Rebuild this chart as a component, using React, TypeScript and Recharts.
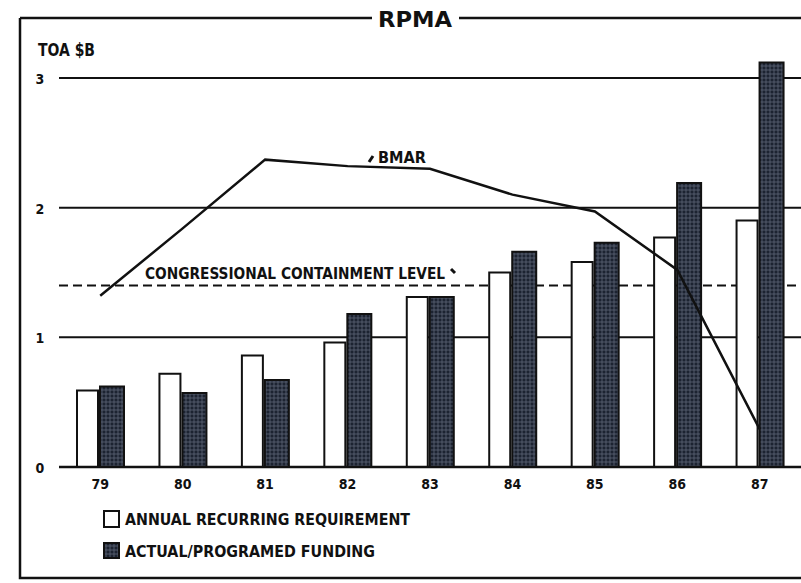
import { ComposedChart, Bar, Line, XAxis, YAxis, CartesianGrid } from 'recharts'

const years = ['79', '80', '81', '82', '83', '84', '85', '86', '87']
const requirement = [0.59, 0.72, 0.86, 0.96, 1.31, 1.5, 1.58, 1.77, 1.9]
const funding = [0.62, 0.57, 0.67, 1.18, 1.31, 1.66, 1.73, 2.19, 3.12]
const bmar = [1.32, 1.84, 2.37, 2.32, 2.3, 2.1, 1.97, 1.52, 0.29]
const containmentLevel = 1.4
const yTicks = [0, 1, 2, 3]
const gridValues = [1, 2, 3]

const data = years.map((year, i) => ({
  year,
  requirement: requirement[i],
  funding: funding[i],
  bmar: bmar[i]
}))

const FONT = "'Liberation Sans Narrow', 'DejaVu Sans Condensed', 'Liberation Sans', sans-serif"

const XTick = ({ x, y, payload }: any) => (
  <text x={x} y={y + 14} textAnchor='middle' fontFamily={FONT} fontWeight={700} fontSize={14} fill='#111'>
    {payload.value}
  </text>
)

const YTick = ({ y, payload }: any) => (
  <text x={40} y={y + 6} textAnchor='middle' fontFamily={FONT} fontWeight={700} fontSize={14} fill='#111'>
    {payload.value}
  </text>
)

export default function App() {
  return (
    <div style={{ position: 'absolute', left: 0, top: 0, width: 801, height: 583, background: '#fff' }}>
      <ComposedChart
        width={801}
        height={583}
        data={data}
        margin={{ top: 52, right: 0, left: 0, bottom: 0 }}
        barGap={2}
      >
        <defs>
          <pattern id='hatch' width='4' height='4' patternUnits='userSpaceOnUse'>
            <rect width='4' height='4' fill='#1c2331' />
            <path d='M0 2H4M2 0V4' stroke='#5d6575' strokeWidth='0.8' />
          </pattern>
        </defs>
        {/* solid gridlines and the dashed containment level, both kept behind the bars */}
        <CartesianGrid vertical={false} horizontalValues={gridValues} stroke='#111' strokeWidth={2} />
        <CartesianGrid
          vertical={false}
          horizontalValues={[containmentLevel]}
          stroke='#111'
          strokeWidth={2}
          strokeDasharray='9 5'
        />
        <XAxis
          dataKey='year'
          height={116}
          axisLine={{ stroke: '#111', strokeWidth: 2.5 }}
          tickLine={false}
          tick={<XTick />}
        />
        <YAxis width={59} domain={[0, 3.2]} ticks={yTicks} axisLine={false} tickLine={false} tick={<YTick />} />
        <Bar dataKey='requirement' barSize={21} fill='#fff' stroke='#111' strokeWidth={2} isAnimationActive={false} />
        <Bar dataKey='funding' barSize={24} fill='url(#hatch)' stroke='#111' strokeWidth={2} isAnimationActive={false} />
        <Line type='linear' dataKey='bmar' stroke='#111' strokeWidth={2.5} dot={false} isAnimationActive={false} />
      </ComposedChart>
      <svg width={801} height={583} style={{ position: 'absolute', left: 0, top: 0, pointerEvents: 'none' }}>
        <defs>
          <pattern id='hatch2' width='4' height='4' patternUnits='userSpaceOnUse'>
            <rect width='4' height='4' fill='#1c2331' />
            <path d='M0 2H4M2 0V4' stroke='#5d6575' strokeWidth='0.8' />
          </pattern>
        </defs>
        <g stroke='#111' strokeWidth={2.5} fill='none'>
          <path d='M20 18H372M459 18H801' />
          <path d='M20 18V578H801' />
        </g>
        <g fontFamily={FONT} fontWeight={700} fill='#111'>
          <text x={378} y={27} fontSize={22} textLength={74} lengthAdjust='spacingAndGlyphs'>RPMA</text>
          <text x={38} y={56} fontSize={18} textLength={57} lengthAdjust='spacingAndGlyphs'>TOA $B</text>
          <text x={378} y={163} fontSize={15} textLength={48} lengthAdjust='spacingAndGlyphs'>BMAR</text>
          <path d='M369 162l4 -6' stroke='#111' strokeWidth={3} />
          <text x={145} y={279} fontSize={16} textLength={300} lengthAdjust='spacingAndGlyphs'>
            CONGRESSIONAL CONTAINMENT LEVEL
          </text>
          <path d='M451 269l4 4' stroke='#111' strokeWidth={3} />
          <rect x={104} y={511} width={15} height={16} fill='#fff' stroke='#111' strokeWidth={2} />
          <text x={125} y={525} fontSize={15} textLength={285} lengthAdjust='spacingAndGlyphs'>
            ANNUAL RECURRING REQUIREMENT
          </text>
          <rect x={104} y={543} width={15} height={15} fill='url(#hatch2)' stroke='#111' strokeWidth={2} />
          <text x={125} y={557} fontSize={15} textLength={250} lengthAdjust='spacingAndGlyphs'>
            ACTUAL/PROGRAMED FUNDING
          </text>
        </g>
      </svg>
    </div>
  )
}
